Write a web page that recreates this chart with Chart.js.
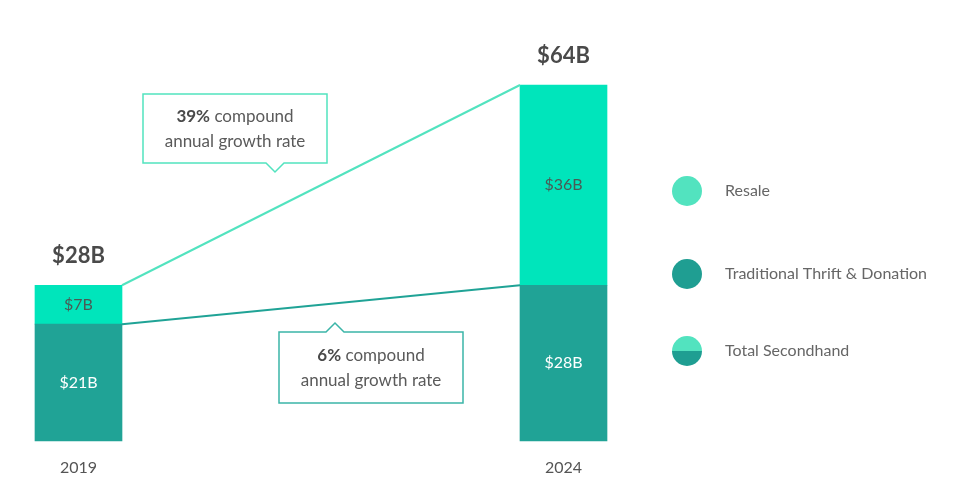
<!DOCTYPE html>
<html>
<head>
<meta charset="utf-8">
<script src="https://cdn.jsdelivr.net/npm/chart.js@4"></script>
<style>
  html, body { margin: 0; padding: 0; background: #fff; }
  #wrap { width: 965px; height: 486px; position: relative; }
</style>
</head>
<body>
<div id="wrap"><canvas id="secondhand-chart"></canvas></div>
<script>
// data
const years = ['2019', '2024'];
const thrift = [21, 28];   // Traditional Thrift & Donation ($B)
const resale = [7, 36];    // Resale ($B)
const totals = [28, 64];   // Total Secondhand ($B)
const growth = [
    { bold: '39%', rest: ' compound', line2: 'annual growth rate' },
    { bold: '6%', rest: ' compound', line2: 'annual growth rate' }
];
const legendLabels = ['Resale', 'Traditional Thrift & Donation', 'Total Secondhand'];

const FONT = 'Lato, "Open Sans", sans-serif';
const MINT = '#00e5bb';
const TEAL = '#20a396';
const MINT_SOFT = '#52e3bf';
const TEAL_SOFT = '#1f9e92';
const BAR_W = 87;

// draws totals, value labels, connecting lines, callouts and legend
const decorPlugin = {
    id: 'decor',
    afterDatasetsDraw(chart) {
        const c = chart.ctx;
        const xs = chart.scales.x;
        const ys = chart.scales.y;
        const x0 = xs.getPixelForValue(0);
        const x1 = xs.getPixelForValue(1);
        const half = BAR_W / 2;

        c.save();
        // connecting lines
        c.lineWidth = 2;
        c.strokeStyle = MINT_SOFT;
        c.beginPath();
        c.moveTo(x0 + half, ys.getPixelForValue(totals[0]));
        c.lineTo(x1 - half, ys.getPixelForValue(totals[1]));
        c.stroke();
        c.strokeStyle = TEAL;
        c.beginPath();
        c.moveTo(x0 + half, ys.getPixelForValue(thrift[0]));
        c.lineTo(x1 - half, ys.getPixelForValue(thrift[1]));
        c.stroke();

        // labels inside segments
        c.textAlign = 'center';
        c.textBaseline = 'middle';
        c.font = '16px ' + FONT;
        [0, 1].forEach(i => {
            const x = xs.getPixelForValue(i);
            const yT = ys.getPixelForValue(thrift[i] / 2);
            c.fillStyle = '#ffffff';
            c.fillText('$' + thrift[i] + 'B', x, yT);
            const yR = ys.getPixelForValue(thrift[i] + resale[i] / 2);
            c.fillStyle = '#4a5a55';
            c.fillText('$' + resale[i] + 'B', x, yR);
        });

        // totals above bars
        c.font = 'bold 22px ' + FONT;
        c.fillStyle = '#4a4a4a';
        c.textBaseline = 'alphabetic';
        [0, 1].forEach(i => {
            const x = xs.getPixelForValue(i);
            c.fillText('$' + totals[i] + 'B', x, ys.getPixelForValue(totals[i]) - 22);
        });

        // year labels
        c.font = '16px ' + FONT;
        c.fillStyle = '#555';
        [0, 1].forEach(i => {
            c.fillText(years[i], xs.getPixelForValue(i), ys.bottom + 32);
        });

        // callout boxes
        function callout(bx, by, bw, bh, px, up, color, g) {
            c.strokeStyle = color;
            c.lineWidth = 1.5;
            c.fillStyle = '#fff';
            c.beginPath();
            if (up) {
                c.moveTo(bx, by);
                c.lineTo(px - 9, by);
                c.lineTo(px, by - 9);
                c.lineTo(px + 9, by);
                c.lineTo(bx + bw, by);
                c.lineTo(bx + bw, by + bh);
                c.lineTo(bx, by + bh);
            } else {
                c.moveTo(bx, by);
                c.lineTo(bx + bw, by);
                c.lineTo(bx + bw, by + bh);
                c.lineTo(px + 9, by + bh);
                c.lineTo(px, by + bh + 9);
                c.lineTo(px - 9, by + bh);
                c.lineTo(bx, by + bh);
            }
            c.closePath();
            c.fill();
            c.stroke();

            const cx = bx + bw / 2;
            c.textBaseline = 'middle';
            c.font = 'bold 17px ' + FONT;
            const wb = c.measureText(g.bold).width;
            c.font = '17px ' + FONT;
            const wr = c.measureText(g.rest).width;
            let sx = cx - (wb + wr) / 2;
            c.textAlign = 'left';
            c.fillStyle = '#4a4a4a';
            c.font = 'bold 17px ' + FONT;
            c.fillText(g.bold, sx, by + bh / 2 - 12);
            c.fillStyle = '#5a5a5a';
            c.font = '17px ' + FONT;
            c.fillText(g.rest, sx + wb, by + bh / 2 - 12);
            c.textAlign = 'center';
            c.fillText(g.line2, cx, by + bh / 2 + 13);
        }
        callout(143, 94, 184, 69, 275, false, MINT_SOFT, growth[0]);
        callout(279, 332, 184, 71, 335, true, '#3bb5a8', growth[1]);

        // legend
        const lx = 687, r = 15;
        const ly = [191, 274, 351];
        c.fillStyle = MINT_SOFT;
        c.beginPath(); c.arc(lx, ly[0], r, 0, Math.PI * 2); c.fill();
        c.fillStyle = TEAL_SOFT;
        c.beginPath(); c.arc(lx, ly[1], r, 0, Math.PI * 2); c.fill();
        c.fillStyle = MINT_SOFT;
        c.beginPath(); c.arc(lx, ly[2], r, Math.PI, 0); c.fill();
        c.fillStyle = TEAL_SOFT;
        c.beginPath(); c.arc(lx, ly[2], r, 0, Math.PI); c.fill();

        c.font = '16px ' + FONT;
        c.fillStyle = '#666';
        c.textAlign = 'left';
        c.textBaseline = 'middle';
        legendLabels.forEach((t, i) => c.fillText(t, 725, ly[i]));
        c.restore();
    }
};

const ctx = document.getElementById('secondhand-chart').getContext('2d');
const chart = new Chart(ctx, {
    type: 'bar',
    data: {
        labels: years,
        datasets: [
            {
                label: 'Traditional Thrift & Donation',
                data: thrift,
                backgroundColor: TEAL,
                barThickness: BAR_W,
                clip: false
            },
            {
                label: 'Resale',
                data: resale,
                backgroundColor: MINT,
                barThickness: BAR_W,
                clip: false
            }
        ]
    },
    options: {
        responsive: true,
        maintainAspectRatio: false,
        animation: false,
        layout: {
            padding: { left: 78.5, right: 401.5, top: 85, bottom: 45 }
        },
        plugins: {
            legend: { display: false },
            tooltip: { enabled: false }
        },
        scales: {
            x: { stacked: true, offset: false, display: false },
            y: { stacked: true, min: 0, max: 64, display: false }
        }
    },
    plugins: [decorPlugin]
});
</script>
</body>
</html>
